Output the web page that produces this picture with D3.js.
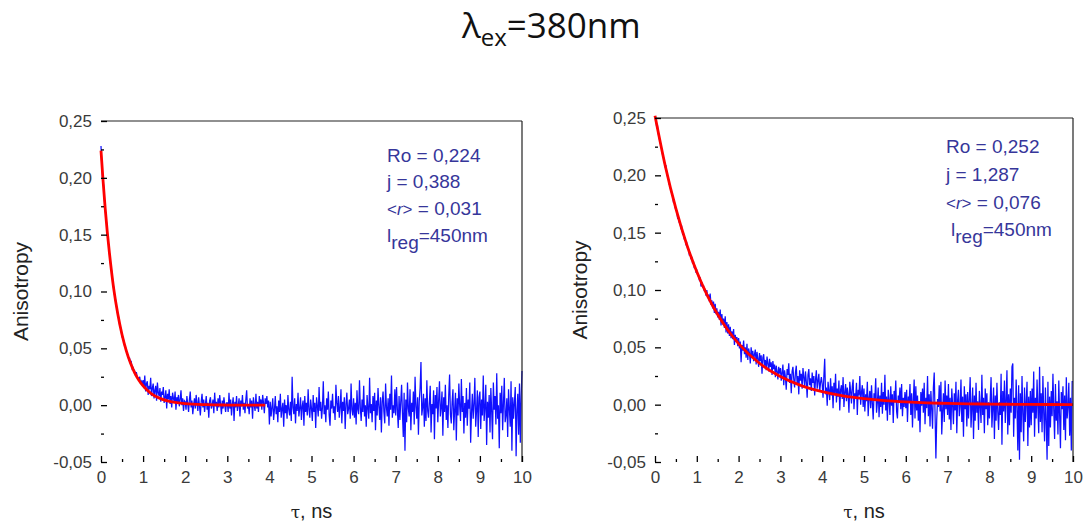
<!DOCTYPE html>
<html>
<head>
<meta charset="utf-8">
<script src="https://cdn.jsdelivr.net/npm/d3@7"></script>
<style>
  body { margin: 0; background: #fff; }
  text { font-family: "Liberation Sans", Arial, sans-serif; }
</style>
</head>
<body>
<div class="chart"></div>
<script>
// measured anisotropy, in thousandths, sampled every 0.02 ns from 0 to 10 ns (one row = 1 ns)
const step = 0.02

const leftData = [
  228,210,197,194,181,172,165,157,147,141,134,126,121,116,108,104,97,94,89,83,80,77,71,69,65,60,59,57,52,51,48,45,44,40,41,37,38,32,33,31,30,26,29,25,24,23,25,19,21,19,
  22,15,26,12,19,21,9,17,14,24,8,15,19,6,13,17,4,20,11,8,15,3,12,9,16,2,7,13,-3,10,5,14,1,8,-2,11,6,3,12,-4,7,2,9,-1,5,13,0,6,-5,4,
  3,-4,8,1,-6,5,12,-2,4,-8,0,6,-3,9,2,-5,7,-1,-9,3,10,-2,5,-6,1,8,-4,2,-11,4,7,-3,0,5,-7,11,-1,3,-5,6,-2,9,1,-8,4,-3,7,0,-6,2,
  2,-6,11,-3,5,-9,1,7,-14,3,-2,8,-5,0,6,-10,4,-1,9,-4,2,-7,5,13,-3,1,-8,6,-2,4,-12,7,0,-5,10,-3,3,-6,8,1,5,-4,9,2,-7,6,1,8,-2,4,
  -17,3,-10,-2,6,-13,-4,8,-8,-1,-15,4,-6,10,-11,-3,2,-19,5,-7,0,-12,9,-4,-9,3,-14,25,-2,-8,6,-16,1,-5,11,-10,-3,7,-13,-1,4,-18,8,-6,2,-9,14,-4,-11,5,
  -3,-14,9,-6,2,-20,7,-1,-10,16,-5,3,-12,-2,21,-8,0,-15,6,-4,12,-9,-18,4,-3,10,-7,-1,-13,18,2,-6,8,-11,-2,14,-16,3,-5,7,-21,1,11,-8,-3,5,-12,19,-4,-9,
  6,-11,2,-17,13,-4,-8,22,-2,-14,5,-6,17,-10,0,-19,9,-3,-12,24,-7,1,-15,8,-5,11,-22,4,-9,15,-1,-13,7,-24,3,12,-6,-16,19,-2,-10,6,-18,10,-4,26,-11,0,-7,14,
  -9,16,-4,-20,8,-13,3,18,-7,-28,11,-40,5,-15,20,-3,-10,14,-22,2,-6,12,-17,25,-1,-12,7,-26,4,15,38,-9,-2,10,-19,6,-14,22,-5,-11,3,17,-24,1,-8,13,-30,9,-3,16,
  -15,4,21,-10,-2,12,-27,7,-6,18,-13,0,-20,9,27,-8,-16,3,14,-22,-4,11,-31,6,-9,19,-1,-14,23,-6,8,-25,2,-11,15,-18,5,-3,20,-33,-7,10,-12,1,24,-19,-5,13,-28,7,
  12,-21,5,-9,26,-14,-2,18,-35,3,-11,9,-24,15,-6,-30,20,-4,8,-17,28,-12,0,-38,11,-7,17,-22,2,24,-15,-9,6,-28,14,-3,-19,21,-40,7,-12,3,16,-45,-5,10,-26,19,-33,8,
  30
]

const rightData = [
  250,249,242,243,236,232,230,226,223,218,216,213,207,209,203,199,197,192,191,186,185,182,177,178,172,170,169,163,164,159,159,154,155,149,150,144,146,140,141,136,136,131,132,127,129,123,125,119,121,116,
  117,113,112,109,111,103,107,102,104,99,101,95,100,93,96,90,97,87,91,84,90,80,88,79,84,76,81,74,83,69,79,70,75,67,77,63,72,62,70,60,68,58,64,57,66,52,61,55,59,51,
  58,49,55,37,52,47,56,44,50,41,53,39,49,45,36,50,42,47,38,44,48,35,46,40,33,45,38,43,27,41,44,34,39,30,42,36,29,40,33,37,26,38,31,35,24,34,29,22,33,27,
  32,21,28,35,17,30,24,13,31,26,36,19,27,10,29,33,22,15,28,34,18,25,9,30,21,27,14,32,24,16,29,20,6,26,31,17,23,12,28,19,25,8,22,30,14,21,27,11,19,24,
  18,6,25,40,9,15,-1,20,12,4,23,8,16,-3,19,10,27,2,14,7,21,-5,13,17,5,24,-2,11,18,3,15,9,-7,20,12,1,16,22,-4,10,6,19,-9,13,8,25,0,11,17,-2,
  14,-6,9,3,20,-10,6,12,-3,17,1,-13,10,5,23,-7,2,15,-11,8,-2,19,-8,11,0,26,-5,7,-14,13,4,-9,16,-1,9,-16,12,2,21,-6,-12,8,3,15,-4,18,-10,6,-2,11,
  -3,13,-15,7,2,18,-9,10,-20,4,22,-12,16,-5,8,-14,3,-24,11,-1,14,-7,19,-17,6,-3,25,-10,9,-19,12,-4,-21,15,28,-8,-47,-13,5,-2,17,-6,20,-26,-6,10,-15,21,-4,8,
  -9,18,-13,6,-22,14,0,-17,10,-5,20,-25,4,13,-10,-2,22,-15,7,-28,16,-4,9,-19,11,-12,5,24,-20,-3,15,-30,8,-14,19,-7,3,-22,12,-1,-16,26,-9,6,-25,14,-4,10,-18,2,
  -12,5,24,-20,-3,15,-30,8,-14,19,-6,-22,2,-9,27,-35,12,-6,21,-16,4,30,-26,9,-18,14,-7,33,36,-28,6,-12,22,-3,-40,17,-48,10,-24,25,-8,-32,15,-15,2,20,-36,7,-20,12,
  -18,14,-7,29,-28,6,-12,22,-3,-25,33,-15,10,-24,25,-8,-32,15,-15,-48,20,-36,7,-20,12,-10,27,-5,-30,18,-14,3,-26,21,-9,-38,11,-4,16,-22,8,-31,24,-12,-2,19,-27,6,-40,20,
  20
]

// fitted curves
const leftFitT = [0,0.05,0.1,0.15,0.2,0.3,0.4,0.5,0.6,0.7,0.8,0.9,1.0,1.2,1.4,1.6,1.8,2.0,2.5,3.0,3.5,3.9]
const leftFitR = [0.224,0.197,0.173,0.152,0.134,0.103,0.080,0.062,0.048,0.037,0.0285,0.022,0.017,0.010,0.006,0.0036,0.0022,0.0013,0.0004,0.0001,0,0]

const rightFitT = [0,0.25,0.5,0.75,1,1.25,1.5,1.75,2,2.5,3,3.5,4,4.5,5,5.5,6,6.5,7,7.5,8,9,10]
const rightFitR = [0.252,0.2075,0.1709,0.1407,0.1159,0.0954,0.0786,0.0647,0.0533,0.0361,0.0245,0.0166,0.0113,0.0076,0.0052,0.0035,0.0024,0.0016,0.0011,0.0007,0.0005,0.0002,0.0001]

const leftNotes = ['Ro = 0,224', 'j = 0,388', '0,031']
const rightNotes = ['Ro = 0,252', 'j = 1,287', '0,076']

const yTicks = [-0.05, 0, 0.05, 0.10, 0.15, 0.20, 0.25]
const yMinor = [-0.025, 0.025, 0.075, 0.125, 0.175, 0.225]
const xTicks = [0,1,2,3,4,5,6,7,8,9,10]
const xMinor = [0.5,1.5,2.5,3.5,4.5,5.5,6.5,7.5,8.5,9.5]

const W = 1084, H = 522
const svg = d3.select('.chart').append('svg').attr('width', W).attr('height', H)

// title
const title = svg.append('text').attr('x', 462).attr('y', 38)
  .attr('font-size', 35).attr('fill', '#111')
  .style('font-family', '"Open Sans", sans-serif')
title.append('tspan').text('λ')
title.append('tspan').attr('font-size', 24).attr('dy', 8).text('ex')
title.append('tspan').attr('dy', -8).text('=380nm')

const fmt = v => d3.format('.2f')(v).replace('.', ',').replace('−', '-')

function panel(opt) {
  const x = d3.scaleLinear().domain([0, 10]).range([opt.x0, opt.x1])
  const y = d3.scaleLinear().domain([-0.05, 0.25]).range([opt.y1, opt.y0])
  const g = svg.append('g')

  const pts = opt.data.map((v, i) => [i * step, v / 1000])
  const line = d3.line().x(d => x(d[0])).y(d => y(d[1]))

  g.append('path').datum(pts).attr('d', line)
    .attr('fill', 'none').attr('stroke', '#1010ff').attr('stroke-width', 1.25)

  const fit = opt.fitT.map((t, i) => [t, opt.fitR[i]])
  g.append('path').datum(fit).attr('d', line.curve(d3.curveMonotoneX))
    .attr('fill', 'none').attr('stroke', '#ff0000').attr('stroke-width', 2.8)

  // frame top / right
  g.append('line').attr('x1', opt.x0).attr('x2', opt.x1).attr('y1', opt.y0).attr('y2', opt.y0)
    .attr('stroke', '#222').attr('stroke-width', 1.2)
  g.append('line').attr('x1', opt.x1).attr('x2', opt.x1).attr('y1', opt.y0).attr('y2', opt.y1)
    .attr('stroke', '#222').attr('stroke-width', 1.2)

  const ya = g.append('g').attr('transform', `translate(${opt.x0},0)`)
    .call(d3.axisLeft(y).tickValues(yTicks).tickSize(-6).tickPadding(9).tickFormat(fmt))
  ya.append('g').call(d3.axisLeft(y).tickValues(yMinor).tickSize(-3).tickFormat(''))

  const xa = g.append('g').attr('transform', `translate(0,${opt.y1})`)
    .call(d3.axisBottom(x).tickValues(xTicks).tickSize(-6).tickPadding(9))
  xa.append('g').call(d3.axisBottom(x).tickValues(xMinor).tickSize(-3).tickFormat(''))

  for (const a of [ya, xa]) {
    a.selectAll('g g .domain').remove()
    a.selectAll('.domain').attr('stroke', '#000').attr('stroke-width', 1.6)
    a.selectAll('.tick line').attr('stroke', '#000').attr('stroke-width', 1.3)
    a.selectAll('text').attr('font-size', 17).attr('fill', '#3a3a3a')
      .style('font-family', '"Liberation Sans", Arial, sans-serif')
  }

  svg.append('text').attr('transform', `translate(${opt.labelX},${(opt.y0 + opt.y1) / 2}) rotate(-90)`)
    .attr('text-anchor', 'middle').attr('dy', '0.35em').attr('font-size', 21).attr('fill', '#222').text('Anisotropy')

  const xl = svg.append('text').attr('x', (opt.x0 + opt.x1) / 2).attr('y', 518)
    .attr('text-anchor', 'middle').attr('font-size', 20).attr('fill', '#222')
  xl.append('tspan').style('font-family', '"DejaVu Serif", serif').attr('font-size', 17).text('τ')
  xl.append('tspan').text(', ns')

  const nx = opt.noteX
  const n = svg.append('g').attr('fill', '#36369a').attr('font-size', 19)
  n.append('text').attr('x', nx).attr('y', opt.noteY[0]).text(opt.notes[0])
  n.append('text').attr('x', nx).attr('y', opt.noteY[1]).text(opt.notes[1])
  const r = n.append('text').attr('x', nx).attr('y', opt.noteY[2])
  r.append('tspan').attr('font-size', 17).text('<')
  r.append('tspan').attr('font-style', 'italic').attr('font-size', 17).text('r')
  r.append('tspan').attr('font-size', 17).text('>')
  r.append('tspan').text(' = ' + opt.notes[2])
  const l = n.append('text').attr('x', nx + opt.lIndent).attr('y', opt.noteY[3])
  l.append('tspan').text('l')
  l.append('tspan').attr('dy', 7).text('reg')
  l.append('tspan').attr('dy', -7).text('=450nm')
}

panel({ x0: 101, x1: 522, y0: 121, y1: 462, data: leftData, fitT: leftFitT, fitR: leftFitR,
  labelX: 21, noteX: 387, noteY: [162, 188, 215, 242], notes: leftNotes, lIndent: 0 })
panel({ x0: 655, x1: 1073, y0: 118, y1: 462, data: rightData, fitT: rightFitT, fitR: rightFitR,
  labelX: 580, noteX: 946, noteY: [153, 181, 209, 236], notes: rightNotes, lIndent: 5 })
</script>
</body>
</html>
